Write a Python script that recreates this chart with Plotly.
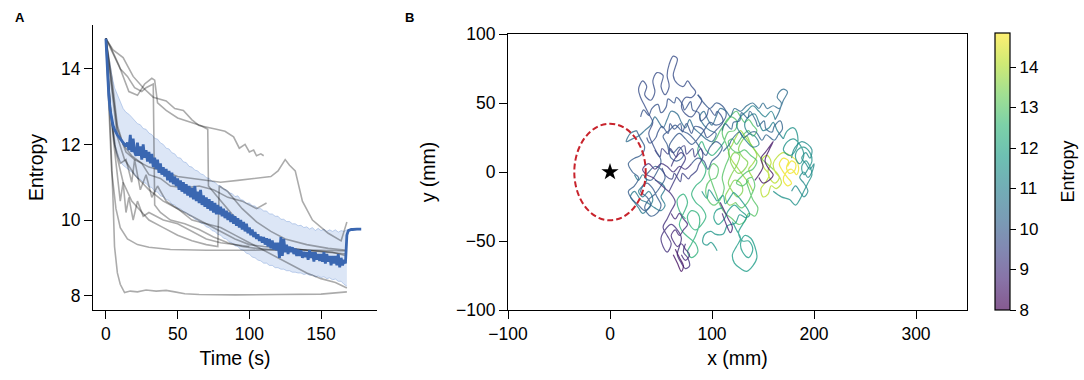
import plotly.graph_objects as go
from plotly.colors import sample_colorscale, sequential, hex_to_rgb

# ---------------- Panel A data ----------------
mean_t = list(range(0, 179))
mean_e = [
    14.8, 13.9, 13.3, 12.9, 12.65, 12.5, 12.4, 12.3, 12.25, 12.2,
    12.15, 12.1, 12.05, 12.0, 11.95, 12.05, 11.85, 12.25, 11.8, 12.15,
    11.8, 11.7, 12.05, 11.7, 11.95, 11.6, 12.0, 11.65, 11.85, 11.55,
    11.8, 11.5, 11.75, 11.4, 11.65, 11.35, 11.6, 11.25, 11.5, 11.2,
    11.4, 11.15, 11.35, 11.05, 11.3, 11.0, 11.25, 10.95, 11.15, 10.9,
    11.1, 10.8, 11.05, 10.75, 11.0, 10.7, 10.95, 10.65, 10.9, 10.6,
    10.85, 10.55, 10.9, 10.5, 10.75, 10.45, 10.8, 10.4, 10.65, 10.35,
    10.6, 10.3, 10.55, 10.25, 10.5, 10.2, 10.45, 10.15, 10.4, 10.15,
    10.35, 10.1, 10.3, 10.05, 10.25, 10.0, 10.2, 9.95, 10.15, 9.9,
    10.1, 9.85, 10.05, 9.8, 10.0, 9.75, 9.95, 9.7, 9.9, 9.65,
    9.8, 9.6, 9.75, 9.55, 9.68, 9.5, 9.62, 9.45, 9.56, 9.4,
    9.55, 9.35, 9.52, 9.3, 9.5, 9.25, 9.46, 9.22, 9.4, 9.2,
    9.4, 9.0, 9.55, 9.05, 9.5, 9.15, 9.35, 9.1, 9.3, 9.15,
    9.28, 9.1, 9.25, 9.05, 9.22, 9.05, 9.2, 9.0, 9.16, 9.02,
    9.15, 8.95, 9.2, 9.0, 9.15, 8.9, 9.15, 8.95, 9.1, 8.92,
    9.1, 8.9, 9.15, 8.85, 9.1, 8.9, 9.05, 8.8, 9.05, 8.85,
    9.05, 8.8, 9.1, 8.75, 9.0, 8.8, 8.95, 8.85, 9.6, 9.72,
    9.74, 9.75, 9.75, 9.76, 9.76, 9.76, 9.76, 9.76, 9.76,
]

band_t = list(range(0, 169, 2))
band_upper = [
    14.8, 14.3, 13.85, 13.5, 13.3, 13.1, 12.95, 12.85, 12.8, 12.72,
    12.62, 12.55, 12.52, 12.42, 12.4, 12.3, 12.26, 12.16, 12.14, 12.04,
    12.0, 11.9, 11.88, 11.78, 11.75, 11.65, 11.64, 11.54, 11.52, 11.42,
    11.4, 11.32, 11.3, 11.22, 11.2, 11.12, 11.1, 11.02, 11.0, 10.92,
    10.9, 10.82, 10.8, 10.72, 10.7, 10.62, 10.64, 10.54, 10.52, 10.44,
    10.45, 10.38, 10.37, 10.3, 10.3, 10.24, 10.24, 10.16, 10.16, 10.1,
    10.1, 10.02, 10.02, 9.96, 9.96, 9.9, 9.9, 9.85, 9.86, 9.8,
    9.82, 9.76, 9.8, 9.72, 9.78, 9.72, 9.76, 9.7, 9.74, 9.7,
    9.74, 9.68, 9.72, 9.7, 9.74,
]
band_lower = [
    14.8, 13.4, 12.5, 12.0, 11.7, 11.55, 11.45, 11.38, 11.33, 11.27,
    11.2, 11.1, 11.08, 11.0, 10.97, 10.88, 10.86, 10.76, 10.74, 10.64,
    10.62, 10.54, 10.52, 10.42, 10.4, 10.32, 10.3, 10.22, 10.2, 10.12,
    10.1, 10.02, 10.0, 9.92, 9.9, 9.82, 9.8, 9.72, 9.7, 9.62,
    9.6, 9.52, 9.5, 9.42, 9.4, 9.32, 9.3, 9.22, 9.2, 9.12,
    9.1, 9.02, 9.0, 8.94, 8.92, 8.86, 8.86, 8.8, 8.8, 8.74,
    8.74, 8.7, 8.7, 8.66, 8.66, 8.62, 8.62, 8.6, 8.6, 8.56,
    8.58, 8.54, 8.55, 8.5, 8.52, 8.48, 8.5, 8.45, 8.47, 8.42,
    8.44, 8.38, 8.38, 8.3, 8.25,
]

gray1 = [(0, 14.8), (3, 12.5), (5, 10.5), (6, 9.3), (8, 8.6), (10, 8.3), (13, 8.08), (17, 8.12), (22, 8.1),
         (28, 8.15), (35, 8.12), (42, 8.14), (48, 8.1), (55, 8.05), (65, 8.03), (90, 8.02), (120, 8.03),
         (150, 8.04), (168, 8.1)]
gray2 = [(0, 14.8), (5, 14.5), (12, 14.3), (19, 13.8), (26, 13.5), (33, 13.25), (42, 13.15), (48, 12.95),
         (54, 12.9), (60, 12.65), (65, 12.5), (70, 12.45), (77, 12.4), (83, 12.35), (89, 12.2), (93, 11.9),
         (97, 12.0), (100, 11.8), (103, 11.85), (105, 11.7), (108, 11.75), (110, 11.7)]
gray3 = [(0, 14.8), (3, 14.6), (9, 14.1), (16, 13.4), (22, 13.3), (27, 13.6), (32, 13.75), (34, 13.7),
         (36, 13.1), (42, 12.9), (50, 12.7), (58, 12.6), (66, 12.5), (71, 12.4), (71.5, 10.9), (78, 10.6),
         (88, 10.15), (98, 9.8), (108, 9.5), (120, 9.3), (140, 9.2), (158, 9.15), (168, 9.05)]
gray4 = [(0, 14.8), (4, 13.6), (8, 12.4), (14, 11.8), (20, 11.6), (30, 11.4), (40, 11.3), (50, 11.15),
         (60, 11.1), (70, 11.05), (80, 11.0), (92, 11.05), (104, 11.1), (115, 11.15), (120, 11.3),
         (125, 11.6), (128, 11.45), (132, 11.3), (137, 10.5), (144, 10.0), (155, 9.65), (164, 9.45),
         (166, 9.7), (168, 9.95)]
gray5 = [(0, 14.8), (2, 13.0), (4, 11.3), (7, 10.3), (10, 9.8), (15, 9.5), (22, 9.35), (30, 9.28),
         (45, 9.22), (70, 9.2), (100, 9.2), (130, 9.22), (150, 9.2), (168, 9.18)]
gray6 = [(0, 14.8), (3, 13.0), (7, 11.8), (12, 11.0), (18, 10.5), (25, 10.2), (30, 10.0), (40, 9.8),
         (50, 9.6), (60, 9.45), (70, 9.35), (78, 9.3), (79, 10.9), (85, 10.75), (95, 10.3), (105, 9.95),
         (115, 9.7), (125, 9.5), (140, 9.35), (155, 9.25), (168, 9.2)]
gray7 = [(0, 14.8), (4, 13.8), (8, 12.5), (12, 12.0), (18, 11.7), (25, 11.5), (30, 11.2), (38, 11.1),
         (45, 10.9), (55, 10.85), (65, 10.9), (75, 10.8), (85, 10.6), (95, 10.5), (105, 10.3), (112, 10.45)]
gray8 = [(0, 14.8), (3, 13.0), (6, 12.0), (10, 11.5), (14, 11.6), (18, 11.0), (20, 11.6), (24, 10.8),
         (28, 11.2), (32, 10.6), (36, 10.9), (42, 10.5), (50, 10.3), (60, 10.1), (70, 9.9), (80, 9.7),
         (90, 9.5), (100, 9.35), (110, 9.3), (125, 9.25), (140, 9.2), (155, 9.15), (168, 9.1)]
gray9 = [(0, 14.8), (5, 14.4), (10, 14.0), (15, 13.8), (20, 13.5), (25, 13.4), (28, 13.5), (33, 13.6),
         (34, 10.4), (38, 10.2), (45, 10.0), (55, 9.9), (65, 9.75), (75, 9.55), (85, 9.4), (95, 9.3),
         (105, 9.25), (120, 9.2)]
gray10 = [(0, 14.8), (2, 13.5), (5, 12.2), (8, 11.2), (10, 10.5), (12, 11.0), (14, 10.2), (16, 10.6),
          (19, 10.0), (22, 10.5), (26, 10.1), (30, 10.2), (40, 10.0), (50, 9.9), (60, 9.7), (70, 9.5),
          (80, 9.4), (92, 9.35), (100, 9.3)]
gray11 = [(0, 14.8), (4, 13.5), (8, 12.2), (13, 11.6), (20, 11.2), (30, 10.8), (40, 10.5), (50, 10.3),
          (60, 10.0), (70, 9.9), (80, 9.8), (90, 9.6), (100, 9.4), (110, 9.2), (120, 9.0), (130, 8.8),
          (140, 8.6), (150, 8.45), (160, 8.35), (168, 8.2)]
gray_lines = [gray1, gray2, gray3, gray4, gray5, gray6, gray7, gray8, gray9, gray10, gray11]

# ---------------- Panel B data (trajectory pieces: x, y in mm) ----------------
yel1 = [(174, 4), (178, 8), (182, 6), (181, 1), (176, -1), (173, 3), (175, 8), (170, 10), (166, 6), (169, 1),
        (174, -4), (178, -8), (174, -10), (170, -6), (172, -1), (178, 2), (183, -2), (185, 3), (182, 9), (176, 12)]
yel2 = [(176, 12), (170, 14), (164, 11), (160, 6), (162, 0), (166, -4), (162, -8), (157, -5), (155, 1), (158, 7),
        (154, 12), (149, 9), (151, 3), (156, -2), (152, -8), (148, -12), (150, -18), (155, -16), (158, -10),
        (163, -12), (168, -8), (165, -2), (160, 2)]
lgrn = [(140, -14), (136, -8), (132, -4), (128, 0), (124, 4), (120, 8), (116, 14), (120, 20), (124, 26),
        (128, 30), (132, 26), (136, 22), (140, 18), (144, 12), (140, 6), (136, 2), (140, -4)]
grn1 = [(160, 2), (154, 6), (148, 10), (143, 15), (138, 20), (134, 26), (129, 22), (126, 16), (130, 11), (135, 7),
        (132, 2), (126, -1), (121, 3), (118, 9), (122, 14), (127, 12), (125, 6), (119, -2), (116, -8), (120, -14),
        (125, -18), (130, -14), (128, -8), (122, -6), (117, -12), (113, -18), (117, -24), (123, -22)]
grn2 = [(123, -22), (129, -26), (135, -22), (139, -16), (142, -10), (139, -4), (134, -6), (136, -12), (140, -20),
        (145, -26), (142, -32), (136, -30), (132, -36), (126, -38), (120, -34), (113, -30), (108, -24), (104, -16),
        (100, -8), (97, 0), (101, 6), (106, 3), (104, -4), (98, -6), (94, -12), (96, -20), (102, -24), (108, -20),
        (112, -12), (110, -4), (113, 4), (117, 12), (114, 20), (110, 28), (113, 36), (119, 40), (125, 36),
        (122, 30), (116, 29), (112, 22)]
grn3 = [(100, 20), (104, 24), (108, 30), (112, 34), (116, 38), (120, 42), (124, 44), (128, 40), (132, 36),
        (136, 38), (140, 34), (144, 30), (140, 26), (136, 30), (132, 28), (128, 24), (124, 20), (120, 24),
        (116, 22), (120, 16), (126, 14), (132, 16), (138, 12), (144, 8), (140, 2), (134, 0), (128, -4),
        (124, -8), (130, -10), (136, -6)]
tgr1 = [(112, 22), (106, 16), (100, 12), (94, 16), (90, 22), (86, 16), (90, 8), (94, 2), (90, -6), (84, -10),
        (80, -16), (84, -22), (90, -26), (94, -32), (90, -38), (84, -42), (78, -38), (76, -32), (80, -28), (86, -30),
        (88, -36), (84, -46), (80, -52), (76, -58), (80, -62), (86, -58), (84, -52), (78, -48), (72, -44), (68, -38),
        (72, -30), (76, -22), (72, -16), (66, -20), (68, -28), (74, -34)]
teal1 = [(120, -36), (124, -42), (128, -48), (124, -54), (120, -60), (122, -66), (128, -70), (134, -72), (140, -68),
         (144, -62), (142, -54), (138, -48), (132, -46), (128, -52), (130, -58), (136, -62), (140, -56), (136, -50),
         (130, -50), (126, -44), (130, -38), (134, -32), (128, -28), (122, -24), (116, -28), (112, -34), (106, -38),
         (102, -34), (104, -28), (110, -26)]
teal2 = [(160, -14), (168, -18), (176, -20), (182, -24), (186, -20), (190, -14), (194, -8), (198, -2), (196, 4),
         (192, 8), (188, 4), (190, -2), (194, 2), (198, 8), (196, 14), (190, 18), (184, 16), (182, 10), (186, 6),
         (190, 12), (186, 20), (180, 24), (174, 22), (170, 16), (176, 12), (182, 16), (184, 26), (180, 32),
         (174, 30), (170, 24)]
teal3 = [(90, -14), (95, -19), (97, -13), (103, -19), (105, -21), (111, -17), (113, -23), (119, -17), (121, -15),
         (127, -19), (129, -21), (135, -27), (137, -31), (133, -33), (127, -31), (123, -37), (115, -39), (111, -45),
         (103, -45), (99, -43), (93, -45), (91, -51), (95, -53), (99, -51), (105, -57)]
teal4 = [(178, -14), (182, -10), (186, -14), (190, -18), (194, -14), (190, -8), (186, -4), (190, 0), (194, -4),
         (198, 0), (200, 6), (196, 2), (192, 6), (188, 10), (192, 14), (196, 10), (198, 16), (194, 20), (188, 22),
         (184, 20), (180, 16), (178, 10)]
tblu1 = [(170, 24), (164, 30), (160, 36), (156, 32), (150, 30), (146, 36), (142, 42), (136, 40), (132, 34),
         (136, 28), (142, 26), (146, 20), (140, 18), (134, 22), (128, 28), (124, 34), (128, 40), (134, 44),
         (140, 48), (146, 44), (152, 40), (158, 44), (162, 38)]
bteal = [(24, -2), (28, -6), (32, -2), (36, -6), (32, -10), (28, -14), (32, -18), (38, -14), (42, -20), (38, -26),
         (32, -30), (28, -26), (24, -22), (20, -18), (24, -14), (30, -20), (36, -22), (44, -26), (50, -28),
         (54, -24), (50, -18), (54, -12), (50, -8), (44, -6)]
blue1 = [(162, 38), (166, 44), (168, 50), (164, 54), (166, 58), (170, 60), (174, 58), (170, 52), (166, 46),
         (160, 48), (154, 46), (150, 50), (146, 46), (140, 50), (134, 48), (128, 44), (122, 46), (118, 40),
         (114, 44), (108, 46), (104, 40), (100, 34), (96, 38), (92, 44), (88, 40), (92, 34), (98, 30), (104, 28),
         (100, 22), (94, 24), (88, 28), (82, 32), (78, 38), (74, 32), (70, 36), (66, 42), (60, 44), (56, 38),
         (52, 32), (48, 36), (44, 40), (40, 34), (34, 30), (28, 26), (22, 24), (16, 22), (20, 28), (26, 30)]
blue3 = [(110, 30), (113, 35), (119, 31), (121, 36), (127, 37), (129, 43), (135, 39), (137, 44), (143, 37),
         (145, 33), (151, 37), (153, 31), (159, 29), (161, 33), (167, 37), (169, 31), (165, 27), (161, 23),
         (153, 27), (149, 23), (143, 29), (139, 29), (131, 25), (127, 29), (119, 23), (117, 20), (111, 15)]
blue2 = [(26, 30), (30, 24), (34, 18), (30, 12), (24, 10), (18, 6), (22, 0), (28, -4), (24, -10), (18, -14),
         (22, -20), (28, -24), (34, -28), (40, -24), (36, -18), (30, -14), (36, -8), (42, -12), (46, -18),
         (50, -24), (46, -30), (40, -32), (34, -26), (38, -20), (44, -16), (50, -10), (54, -4), (50, 2), (44, 4),
         (38, 0), (34, -4), (40, -6), (46, 0), (50, 8), (46, 14)]
vio1 = [(46, 14), (42, 20), (38, 28), (42, 36), (38, 42), (34, 48), (30, 54), (28, 60), (32, 66), (36, 62),
        (34, 56), (40, 52), (44, 58), (42, 66), (46, 72), (52, 70), (50, 62), (54, 56), (58, 62), (56, 70),
        (58, 78), (62, 84), (66, 82), (64, 76), (62, 70), (66, 64), (72, 62), (76, 66), (80, 62), (84, 58),
        (80, 54), (74, 54), (70, 48), (74, 42), (80, 40), (86, 46), (90, 52), (86, 56)]
vio2 = [(86, 56), (92, 50), (98, 46), (104, 50), (110, 48), (114, 42), (110, 36), (104, 34), (98, 36), (92, 30),
        (86, 24), (80, 20), (74, 24), (68, 28), (62, 24), (58, 18), (62, 14), (68, 18), (72, 12), (66, 8),
        (60, 10), (56, 20), (52, 26), (58, 30), (64, 34), (70, 30), (76, 28), (82, 24), (88, 18), (94, 12),
        (98, 18), (104, 22), (110, 18), (106, 12), (100, 8), (96, 2), (92, 8), (86, 10), (80, 6)]
vio3 = [(30, 40), (33, 45), (38, 41), (41, 46), (47, 49), (50, 43), (55, 47), (57, 53), (63, 50), (65, 54),
        (71, 49), (73, 45), (79, 51), (81, 45), (87, 43), (89, 37), (95, 41), (97, 46), (103, 41), (105, 44),
        (111, 37), (105, 31), (101, 28), (95, 25), (91, 31), (83, 33), (80, 28), (75, 35), (71, 29), (69, 35),
        (63, 31), (59, 35), (57, 28), (51, 33), (47, 29), (45, 25), (39, 21), (36, 25)]
vio4 = [(44, 16), (49, 11), (51, 17), (57, 13), (59, 17), (65, 11), (67, 15), (73, 19), (75, 13), (81, 17),
        (83, 11), (89, 17), (91, 11), (87, 5), (85, 1), (79, -3), (77, -5), (71, -1), (69, -7), (63, -1),
        (61, -5), (55, -3), (51, 3)]
pur1 = [(80, 6), (74, 2), (68, 4), (62, 0), (56, 4), (50, 6), (44, 2), (38, 6), (32, 2), (36, -2), (42, -4),
        (48, -8), (54, -12), (60, -16), (64, -22), (60, -28), (56, -34), (52, -40), (56, -46), (60, -52),
        (56, -58), (52, -54), (50, -48), (54, -42), (60, -38), (66, -42), (70, -48), (68, -54), (66, -60),
        (70, -66), (74, -70), (78, -68), (76, -62), (72, -58), (74, -52)]
pur4 = [(60, -30), (64, -34), (68, -30), (72, -34), (76, -38), (72, -42), (68, -46), (64, -42), (60, -46),
        (62, -50), (66, -54), (70, -52), (74, -56), (78, -60), (74, -64), (70, -60)]
dpur1 = [(142, -6), (146, -2), (150, 4), (148, 10), (152, 14), (156, 18), (160, 22), (156, 16), (152, 8),
         (156, 2), (160, -2), (156, -6), (150, -8), (146, -4)]
pur2 = [(108, -22), (112, -28), (116, -34), (120, -40), (118, -44), (114, -38), (110, -30)]
dpur2 = [(64, -56), (68, -62), (72, -68), (70, -72), (66, -66), (62, -60)]
pur3 = [(58, -14), (62, -8), (66, -2), (70, 4), (74, 10), (70, 14), (64, 10), (60, 4)]

segments = [yel1, yel2, lgrn, grn1, grn2, grn3, tgr1, teal1, teal2, teal3, teal4, tblu1, bteal, blue1, blue3,
            blue2, vio1, vio2, vio3, vio4, pur1, pur4, dpur1, pur2, dpur2, pur3]
seg_entropy = [14.7, 14.1, 13.8, 13.5, 13.0, 12.9, 12.4, 11.8, 11.5, 11.6, 11.3, 11.0, 10.8, 10.4, 10.2,
               10.0, 9.7, 9.9, 9.8, 9.4, 9.0, 8.8, 8.4, 8.7, 8.3, 9.2]

source_x = [0]
source_y = [0]
source_radius = 35

E_MIN, E_MAX = 8.0, 14.84

# ---------------- figure ----------------
W, H = 1084, 380
FONT = "Liberation Sans, Arial, sans-serif"


def fx(px):
    return px / W


def fy(py):
    return 1 - py / H


viridis = sequential.Viridis
n = len(viridis)
cs_alpha = [[i / (n - 1), "rgba(%d,%d,%d,0.65)" % hex_to_rgb(c)] for i, c in enumerate(viridis)]

fig = go.Figure()

fig.add_trace(go.Scatter(x=band_t, y=band_lower, mode="lines",
                         line=dict(color="rgba(150,178,225,0.6)", width=1),
                         xaxis="x", yaxis="y", showlegend=False, hoverinfo="skip"))
fig.add_trace(go.Scatter(x=band_t, y=band_upper, mode="lines", fill="tonexty",
                         fillcolor="rgba(178,199,235,0.45)",
                         line=dict(color="rgba(150,178,225,0.6)", width=1),
                         xaxis="x", yaxis="y", showlegend=False, hoverinfo="skip"))
for g in gray_lines:
    fig.add_trace(go.Scatter(x=[p[0] for p in g], y=[p[1] for p in g], mode="lines",
                             line=dict(color="rgba(0,0,0,0.33)", width=1.6),
                             xaxis="x", yaxis="y", showlegend=False, hoverinfo="skip"))
fig.add_trace(go.Scatter(x=mean_t, y=mean_e, mode="lines",
                         line=dict(color="#3a67b1", width=2.8),
                         xaxis="x", yaxis="y", showlegend=False))

for seg, e in zip(segments, seg_entropy):
    col = sample_colorscale(viridis, [(e - E_MIN) / (E_MAX - E_MIN)])[0]
    fig.add_trace(go.Scatter(x=[p[0] for p in seg], y=[p[1] for p in seg], mode="lines",
                             line=dict(color=col, width=1.2, shape="spline", smoothing=1.0), opacity=0.8,
                             xaxis="x2", yaxis="y2", showlegend=False, hoverinfo="skip"))

fig.add_trace(go.Scatter(x=[1000, 1000], y=[0, 0], mode="markers",
                         marker=dict(color=[E_MIN, E_MAX], colorscale=cs_alpha, cmin=E_MIN, cmax=E_MAX,
                                     size=1, showscale=True,
                                     colorbar=dict(x=fx(995), xanchor="left", y=fy(171.5), yanchor="middle",
                                                   len=(310 - 33) / H, lenmode="fraction",
                                                   thickness=15, thicknessmode="pixels",
                                                   outlinewidth=1.2, outlinecolor="black",
                                                   ticks="outside", ticklen=6, tickwidth=1.2, tickcolor="black",
                                                   tickvals=[8, 9, 10, 11, 12, 13, 14],
                                                   tickfont=dict(size=17, family=FONT, color="black"),
                                                   xpad=0, ypad=0)),
                         xaxis="x2", yaxis="y2", showlegend=False, hoverinfo="skip"))

fig.add_trace(go.Scatter(x=source_x, y=source_y, mode="markers",
                         marker=dict(symbol="star", size=13, color="black"),
                         xaxis="x2", yaxis="y2", showlegend=False))

fig.add_shape(type="circle", xref="x2", yref="y2",
              x0=source_x[0] - source_radius, x1=source_x[0] + source_radius,
              y0=source_y[0] - source_radius, y1=source_y[0] + source_radius,
              line=dict(color="#c8232c", width=2, dash="6px,3px"))

axis_common = dict(showline=True, linecolor="black", linewidth=1.2, ticks="outside", ticklen=8,
                   tickwidth=1.2, tickcolor="black", showgrid=False, zeroline=False, automargin=False,
                   tickfont=dict(size=17.5, family=FONT, color="black"))

fig.update_layout(
    width=W, height=H, margin=dict(l=0, r=0, t=0, b=0),
    paper_bgcolor="white", plot_bgcolor="white",
    font=dict(family=FONT, color="black"),
    xaxis=dict(domain=[fx(93), fx(377)], range=[-9, 189], tickvals=[0, 50, 100, 150], anchor="y",
               title=dict(text="Time (s)", font=dict(size=19.5), standoff=8), **axis_common),
    yaxis=dict(domain=[fy(310), fy(25)], range=[7.62, 15.16], tickvals=[8, 10, 12, 14], anchor="x",
               title=dict(text="Entropy", font=dict(size=19.5), standoff=12), **axis_common),
    xaxis2=dict(domain=[fx(508), fx(967)], range=[-100, 350], tickvals=[-100, 0, 100, 200, 300],
                anchor="y2", mirror=True,
                title=dict(text="x (mm)", font=dict(size=19.5), standoff=8), **axis_common),
    yaxis2=dict(domain=[fy(310), fy(34)], range=[-100, 100], tickvals=[-100, -50, 0, 50, 100],
                anchor="x2", mirror=True,
                title=dict(text="y (mm)", font=dict(size=19.5), standoff=15), **axis_common),
    annotations=[
        dict(text="<b>A</b>", x=fx(13), y=fy(17), xref="paper", yref="paper", xanchor="left",
             yanchor="middle", showarrow=False, font=dict(size=13, family=FONT, color="black")),
        dict(text="<b>B</b>", x=fx(403), y=fy(17), xref="paper", yref="paper", xanchor="left",
             yanchor="middle", showarrow=False, font=dict(size=13, family=FONT, color="black")),
        dict(text="Entropy", x=fx(1067), y=fy(171.5), xref="paper", yref="paper", xanchor="center",
             yanchor="middle", textangle=-90, showarrow=False,
             font=dict(size=18, family=FONT, color="black")),
    ],
)

fig.write_html("out.html", config={"displayModeBar": False},
               post_script="document.body.style.margin='0';document.body.style.overflow='hidden';")
